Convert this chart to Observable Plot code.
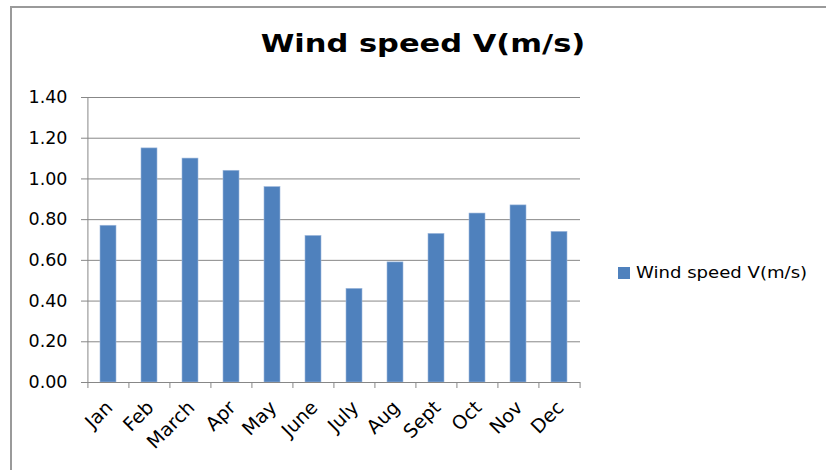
<!DOCTYPE html>
<html><head><meta charset="utf-8">
<script src="https://cdn.jsdelivr.net/npm/d3@7"></script>
<script src="https://cdn.jsdelivr.net/npm/@observablehq/plot@0.6"></script>
<style>
body{margin:0;background:#fff;}
#wrap{position:relative;width:826px;height:470px;overflow:hidden;font-family:"DejaVu Sans",sans-serif;color:#000;}
#border{position:absolute;left:10px;top:6px;width:900px;height:600px;border-left:2px solid #9a9a9a;border-top:2px solid #9a9a9a;}
#title{position:absolute;left:423px;top:29px;font-weight:bold;font-size:25px;line-height:30px;white-space:nowrap;transform:translateX(-50%) scaleX(1.22);}
#legend{position:absolute;left:618px;top:263px;font-size:16px;line-height:20px;white-space:nowrap;display:flex;align-items:center;}
#legend .sw{display:inline-block;width:12px;height:12px;background:#4f81bd;margin-right:6px;}
#legend .lt{display:inline-block;transform-origin:left center;transform:scaleX(1.13);}
#chart{position:absolute;left:0;top:0;}
</style></head><body>
<div id="wrap">
  <div id="border"></div>
  <div id="chart"></div>
  <div id="title"></div>
  <div id="legend"><span class="sw"></span><span class="lt"></span></div>
</div>
<script>
const titleText = "Wind speed V(m/s)";
const seriesName = "Wind speed V(m/s)";
const months = ["Jan","Feb","March","Apr","May","June","July","Aug","Sept","Oct","Nov","Dec"];
const speeds = [0.77, 1.15, 1.10, 1.04, 0.96, 0.72, 0.46, 0.59, 0.73, 0.83, 0.87, 0.74];
const yTicks = [0, 0.2, 0.4, 0.6, 0.8, 1.0, 1.2, 1.4];

document.getElementById("title").textContent = titleText;
document.querySelector("#legend .lt").textContent = seriesName;

const W = 826, H = 470, mL = 86, mR = 246, mT = 97, mB = 88;
const step = (W - mL - mR) / months.length;
const gray = "#878787";
const data = months.map((m, i) => ({month: m, value: speeds[i]}));

const plot = Plot.plot({
  width: W, height: H,
  marginLeft: mL, marginRight: mR, marginTop: mT, marginBottom: mB,
  style: {fontFamily: "DejaVu Sans", fontSize: "17px", color: "#000", background: "transparent"},
  x: {domain: months, paddingInner: 0.62, paddingOuter: 0.31, align: 0.5},
  y: {domain: [0, 1.4]},
  marks: [
    Plot.gridY(yTicks, {stroke: gray, strokeOpacity: 1, strokeWidth: 1}),
    Plot.barY(data, {x: "month", y: "value", fill: "#4f81bd", stroke: "#9fb9dc", strokeWidth: 0.6}),
    Plot.ruleY([0], {stroke: gray}),
    Plot.ruleX([months[0]], {x: d => d, dx: -step / 2, y1: 0, y2: 1.4, stroke: gray}),
    Plot.ruleX(months, {x: d => d, dx: -step / 2, y1: 0, y2: 0, insetTop: 0, insetBottom: -6, stroke: gray}),
    Plot.ruleX([months[months.length - 1]], {x: d => d, dx: step / 2, y1: 0, y2: 0, insetTop: 0, insetBottom: -6, stroke: gray}),
    Plot.axisY(yTicks, {tickFormat: d => d.toFixed(2), tickSize: 5, tickPadding: 14, stroke: gray, fill: "#000", label: null, fontSize: 17.5}),
    Plot.axisX({tickSize: 0, tickRotate: -45, tickPadding: 22, dx: 1, label: null, fill: "#000", fontSize: 19})
  ]
});
document.getElementById("chart").appendChild(plot);
</script>
</body></html>
